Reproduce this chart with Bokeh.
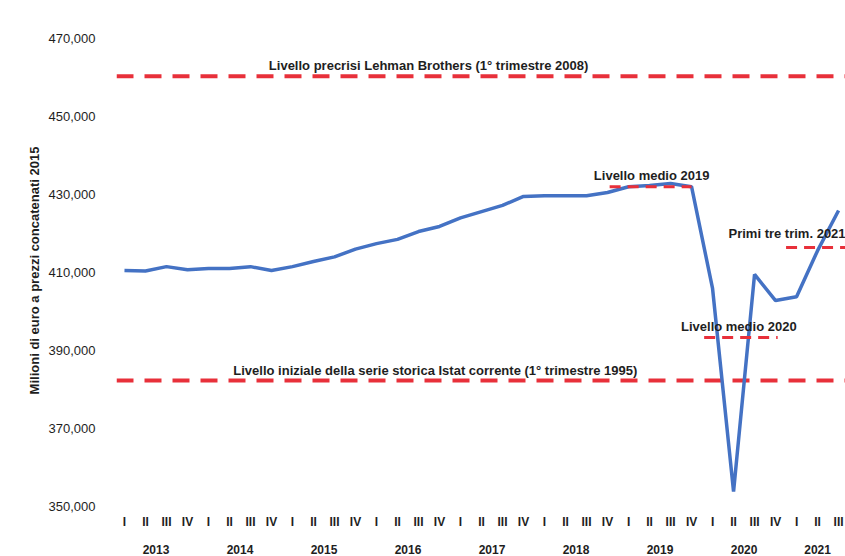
from bokeh.plotting import figure
from bokeh.models import Span, FixedTicker, LinearAxis, NumeralTickFormatter, Range1d
from bokeh.core.properties import value
from bokeh.embed import file_html
from bokeh.resources import INLINE

# ---- data ----
years = ["2013", "2014", "2015", "2016", "2017", "2018", "2019", "2020", "2021"]
quarter_names = ["I", "II", "III", "IV"]
gdp = [410500, 410400, 411500, 410700,
       411000, 411000, 411500, 410500,
       411500, 412800, 414000, 416000,
       417400, 418500, 420500, 421800,
       424000, 425600, 427200, 429500,
       429700, 429700, 429700, 430500,
       432000, 432300, 432800, 432000,
       405900, 353800, 409500, 402800,
       403800, 415600, 425900]
lehman_level = 460300
istat_level = 382300
mean_levels = [432000, 393300, 416400]
mean_start = [23.1, 27.6, 31.5]
mean_end = [27.0, 31.1, 34.5]

ann_texts = ["Livello precrisi Lehman Brothers (1° trimestre 2008)",
             "Livello iniziale della serie storica Istat corrente (1° trimestre 1995)",
             "Livello medio 2019",
             "Livello medio 2020"]
ann_x = [14.48, 14.8, 25.1, 29.25]
ann_y = [463100, 384900, 434900, 396200]
ann2_texts = ["Primi tre trim. 2021"]
ann2_x = [28.76]
ann2_y = [420000]

y_ticks = [350000, 370000, 390000, 410000, 430000, 450000, 470000]

# ---- derived ----
xs = list(range(len(gdp)))
q_overrides = {i: quarter_names[i % 4] for i in xs}
year_pos = []
for k, yr in enumerate(years):
    idx = [i for i in xs if i // 4 == k]
    year_pos.append(sum(idx) / len(idx))
year_overrides = {pos: yr for pos, yr in zip(year_pos, years)}

FONT = "Liberation Sans"
TXT = "#1e1e1e"
RED = "#e8303a"
BLUE = "#4472c4"

p = figure(width=845, height=556, output_backend="svg", toolbar_location=None,
           x_range=Range1d(-0.38, 34.33), y_range=Range1d(348970, 472050),
           min_border_left=116, min_border_right=0, min_border_top=30,
           min_border_bottom=46)
p.xgrid.visible = False
p.ygrid.visible = False
p.outline_line_color = None
p.background_fill_color = "white"

xa = p.xaxis[0]
xa.ticker = FixedTicker(ticks=xs)
xa.major_label_overrides = q_overrides
xa.axis_line_color = None
xa.major_tick_line_color = None
xa.minor_tick_line_color = None
xa.major_label_standoff = -2
xa.major_label_text_font = FONT
xa.major_label_text_font_style = "bold"
xa.major_label_text_font_size = "12px"
xa.major_label_text_color = TXT

ya2 = LinearAxis(ticker=FixedTicker(ticks=year_pos), major_label_overrides=year_overrides)
ya2.axis_line_color = None
ya2.major_tick_line_color = None
ya2.minor_tick_line_color = None
ya2.major_label_standoff = 7
ya2.major_label_text_font = FONT
ya2.major_label_text_font_style = "bold"
ya2.major_label_text_font_size = "12px"
ya2.major_label_text_color = TXT
p.add_layout(ya2, "below")

yax = p.yaxis[0]
yax.ticker = FixedTicker(ticks=y_ticks)
yax.formatter = NumeralTickFormatter(format="0,0")
yax.axis_line_color = None
yax.major_tick_line_color = None
yax.minor_tick_line_color = None
yax.major_label_standoff = 15
yax.major_label_text_font = FONT
yax.major_label_text_font_size = "13px"
yax.major_label_text_color = TXT
yax.axis_label = "Milioni di euro a prezzi concatenati 2015"
yax.axis_label_text_font = FONT
yax.axis_label_text_font_style = "bold"
yax.axis_label_text_font_size = "13px"
yax.axis_label_text_color = TXT
yax.axis_label_standoff = 4

p.add_layout(Span(location=lehman_level, dimension="width", line_color=RED,
                  line_width=4, line_dash="17 11", level="underlay"))
p.add_layout(Span(location=istat_level, dimension="width", line_color=RED,
                  line_width=4, line_dash="17 11", level="underlay"))

p.line(xs, gdp, line_color=BLUE, line_width=3.5)
p.segment(x0=mean_start, y0=mean_levels, x1=mean_end, y1=mean_levels,
          line_color=RED, line_width=3, line_dash="11 7")

p.text(x=ann_x, y=ann_y, text=ann_texts, text_align="center", text_baseline="middle",
       text_font=value(FONT), text_font_style="bold", text_font_size="13px",
       text_color=TXT)
p.text(x=ann2_x, y=ann2_y, text=ann2_texts, text_align="left", text_baseline="middle",
       text_font=value(FONT), text_font_style="bold", text_font_size="13px",
       text_color=TXT)

open("out.html", "w").write(file_html(p, INLINE))
